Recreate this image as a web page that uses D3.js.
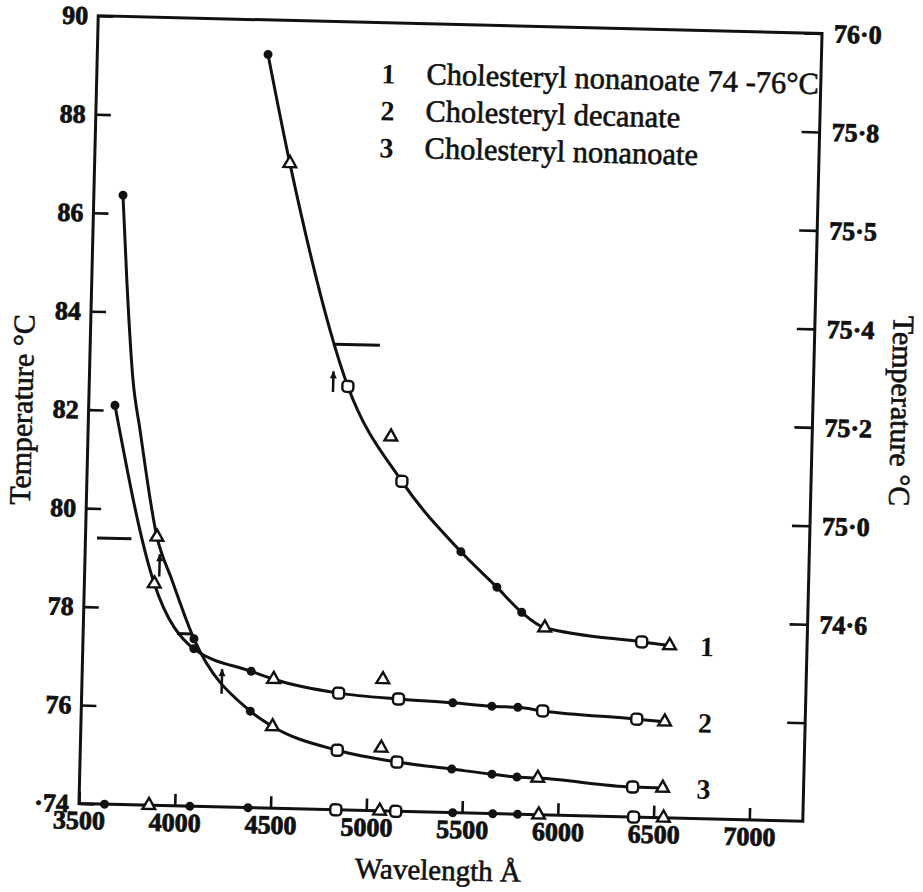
<!DOCTYPE html>
<html><head><meta charset="utf-8">
<script src="https://cdn.jsdelivr.net/npm/d3@7"></script>
<style>
body{margin:0;background:#fff}
svg{display:block}
text{font-family:"Liberation Serif","DejaVu Serif",serif;fill:#111}
</style>
</head><body>
<svg id="c" width="923" height="892"></svg>
<script>
// ---------- data ----------
const wavelengthTicks = [3500, 4000, 4500, 5000, 5500, 6000, 6500, 7000];
const leftTicks = [74, 76, 78, 80, 82, 84, 86, 88, 90];
const leftTickLabels = ["·74", "76", "78", "80", "82", "84", "86", "88", "90"];
const rightTickValues = [76.0, 75.8, 75.6, 75.4, 75.2, 75.0, 74.8, 74.6];
const rightTickLabels = ["76·0", "75·8", "75·5", "75·4", "75·2", "75·0", "74·6", ""];

// curve 1 : Cholesteryl nonanoate 74-76 °C (right axis)
const c1Wave = [4391, 4519, 4850, 5144, 5461, 5653, 5786, 5908, 6416, 6562];
const c1Temp = [75.93, 75.71, 75.26, 75.07, 74.93, 74.86, 74.81, 74.78, 74.756, 74.75];
const c1Mark = ["dot", "tri", "sq", "sq", "dot", "dot", "dot", "tri", "sq", "tri"];
const c1ExtraWave = [5081];
const c1ExtraTemp = [75.16];
const c1ExtraMark = ["tri"];

// curve 2 : Cholesteryl decanate (left axis)
const c2Wave = [3637, 3865, 4079, 4382, 4500, 4841, 5154, 5438, 5642, 5778, 5908, 6400, 6546];
const c2Temp = [82.10, 78.50, 77.20, 76.77, 76.62, 76.37, 76.28, 76.23, 76.18, 76.17, 76.11, 75.99, 75.95];
const c2Mark = ["dot", "tri", "dot", "dot", "tri", "sq", "sq", "dot", "dot", "dot", "sq", "sq", "tri"];
const c2ExtraWave = [5070];
const c2ExtraTemp = [76.67];
const c2ExtraMark = ["tri"];

// curve 3 : Cholesteryl nonanoate (left axis)
const c3Wave = [3652, 3684, 3728, 3771, 3873, 3957, 4079, 4382, 4500, 4841, 5154, 5441, 5651, 5782, 5891, 6387, 6544];
const c3Temp = [86.37, 84.59, 82.62, 81.61, 79.45, 78.58, 77.40, 75.96, 75.66, 75.21, 75.00, 74.885, 74.80, 74.755, 74.745, 74.61, 74.605];
const c3Mark = ["dot", "none", "none", "none", "tri", "none", "dot", "dot", "tri", "sq", "sq", "dot", "dot", "dot", "tri", "sq", "tri"];
const c3ExtraWave = [5070];
const c3ExtraTemp = [75.28];
const c3ExtraMark = ["tri"];

// measurement wavelengths marked on the base line (74 °C)
const baseWave = [3633, 3865, 4079, 4382, 4841, 5070, 5154, 5451, 5660, 5790, 5900, 6396, 6552];
const baseMark = ["dot", "tri", "dot", "dot", "sq", "tri", "sq", "dot", "dot", "dot", "tri", "sq", "tri"];

// error dashes and arrows
const dashW0 = [4777, 3560, 3990];
const dashW1 = [5012, 3740, 4070];
const dashT = [75.345, 79.4, 77.5];
const dashAxis = ["right", "left", "left"];
const arrowW = [4773, 3890, 4230];
const arrowT0 = [75.248, 78.65, 76.3];
const arrowT1 = [75.29, 79.1, 76.8];
const arrowAxis = ["right", "left", "left"];

const legendNum = ["1", "2", "3"];
const legendText = ["Cholesteryl nonanoate 74 -76°C", "Cholesteryl decanate", "Cholesteryl nonanoate"];
const curveLabel = ["1", "2", "3"];
const curveLabelWave = 6720;

// ---------- layout ----------
const W = 923, H = 892;
const F = {left: 88.5, right: 812.5, top: 24.5, bottom: 812.5};
const x = d3.scaleLinear().domain([3500, 7000]).range([F.left, 759]);
const yL = d3.scaleLinear().domain([74, 90]).range([F.bottom, F.top]);
const yR = d3.scaleLinear().domain([74.4, 76.0]).range([F.bottom, F.top]);

const svg = d3.select("#c");
svg.append("rect").attr("width", W).attr("height", H).attr("fill", "#fff");
const g = svg.append("g").attr("transform", "rotate(1.4,450.5,418.5)");

function styleAxis(sel) {
  sel.select(".domain").remove();
  sel.attr("font-family", "Liberation Serif").attr("font-size", 26).attr("font-weight", "bold");
  sel.selectAll(".tick line").attr("stroke", "#111").attr("stroke-width", 2.6);
  sel.selectAll(".tick text").attr("fill", "#111").attr("stroke", "#111").attr("stroke-width", 0.8);
}

// axes
const axL = g.append("g").attr("transform", `translate(${F.left},0)`)
  .call(d3.axisLeft(yL).tickValues(leftTicks).tickFormat((d, i) => leftTickLabels[i]).tickSizeInner(-15).tickSizeOuter(0).tickPadding(10));
styleAxis(axL);
const axR = g.append("g").attr("transform", `translate(${F.right},0)`)
  .call(d3.axisRight(yR).tickValues(rightTickValues).tickFormat((d, i) => rightTickLabels[i]).tickSizeInner(-18).tickSizeOuter(0).tickPadding(12));
styleAxis(axR);
const axB = g.append("g").attr("transform", `translate(0,${F.bottom})`)
  .call(d3.axisBottom(x).tickValues(wavelengthTicks).tickFormat(d3.format("d")).tickSizeInner(-12).tickSizeOuter(0).tickPadding(7));
styleAxis(axB);

// frame
g.append("rect").attr("x", F.left).attr("y", F.top).attr("width", F.right - F.left).attr("height", F.bottom - F.top)
  .attr("fill", "none").attr("stroke", "#111").attr("stroke-width", 3);

// curves
const line = (ys) => d3.line().x(d => x(d.w)).y(d => ys(d.t)).curve(d3.curveMonotoneX);
function zip(w, t, m) { return w.map((v, i) => ({w: v, t: t[i], m: m[i]})); }
const series = [
  {pts: zip(c1Wave, c1Temp, c1Mark), extra: zip(c1ExtraWave, c1ExtraTemp, c1ExtraMark), ys: yR},
  {pts: zip(c2Wave, c2Temp, c2Mark), extra: zip(c2ExtraWave, c2ExtraTemp, c2ExtraMark), ys: yL},
  {pts: zip(c3Wave, c3Temp, c3Mark), extra: zip(c3ExtraWave, c3ExtraTemp, c3ExtraMark), ys: yL}
];

function drawMark(parent, px, py, m) {
  if (m === "dot") {
    parent.append("circle").attr("cx", px).attr("cy", py).attr("r", 4.5).attr("fill", "#111");
  } else if (m === "tri") {
    parent.append("path").attr("d", d3.symbol(d3.symbolTriangle, 70)())
      .attr("transform", `translate(${px},${py})`).attr("fill", "#fff").attr("stroke", "#111").attr("stroke-width", 2.4);
  } else if (m === "sq") {
    parent.append("rect").attr("x", px - 5.5).attr("y", py - 5.5).attr("width", 11).attr("height", 11).attr("rx", 3.5)
      .attr("fill", "#fff").attr("stroke", "#111").attr("stroke-width", 2.4);
  }
}

series.forEach(s => {
  g.append("path").datum(s.pts).attr("d", line(s.ys)).attr("fill", "none").attr("stroke", "#111").attr("stroke-width", 3);
});
series.forEach(s => {
  s.pts.forEach(p => drawMark(g, x(p.w), s.ys(p.t), p.m));
  s.extra.forEach(p => drawMark(g, x(p.w), s.ys(p.t), p.m));
});

// base line marks
baseWave.forEach((w, i) => drawMark(g, x(w), yL(74), baseMark[i]));

// error dashes / arrows
dashW0.forEach((w0, i) => {
  const ys = dashAxis[i] === "right" ? yR : yL;
  g.append("line").attr("x1", x(w0)).attr("x2", x(dashW1[i])).attr("y1", ys(dashT[i])).attr("y2", ys(dashT[i]))
    .attr("stroke", "#111").attr("stroke-width", 3);
});
arrowW.forEach((w, i) => {
  const ys = arrowAxis[i] === "right" ? yR : yL;
  const xa = x(w), ya = ys(arrowT1[i]), yb = ys(arrowT0[i]);
  g.append("line").attr("x1", xa).attr("x2", xa).attr("y1", ya).attr("y2", yb).attr("stroke", "#111").attr("stroke-width", 2.5);
  g.append("path").attr("d", `M${xa - 3.5},${ya + 7}L${xa},${ya}L${xa + 3.5},${ya + 7}Z`).attr("fill", "#111");
});

// curve labels
series.forEach((s, i) => {
  const last = s.pts[s.pts.length - 1];
  g.append("text").attr("x", x(curveLabelWave)).attr("y", s.ys(last.t)).attr("dy", "0.35em")
    .style("font-size", "28px").style("font-weight", "bold").text(curveLabel[i]);
});

// legend
legendNum.forEach((n, i) => {
  const yy = 85 + i * 37;
  g.append("text").attr("x", 380).attr("y", yy).attr("text-anchor", "middle")
    .style("font-size", "28px").style("font-weight", "bold").text(n);
  g.append("text").attr("x", 418).attr("y", yy).style("font-size", "30.5px")
    .attr("stroke", "#111").attr("stroke-width", 0.6).text(legendText[i]);
});

// axis titles
g.append("text").attr("transform", "translate(32,420) rotate(-90)").attr("text-anchor", "middle")
  .style("font-size", "30px").attr("stroke", "#111").attr("stroke-width", 0.6).text("Temperature °C");
g.append("text").attr("transform", "translate(891,400) rotate(90)").attr("text-anchor", "middle")
  .style("font-size", "30px").attr("stroke", "#111").attr("stroke-width", 0.6).text("Temperature °C");
g.append("text").attr("x", 449).attr("y", 880).attr("text-anchor", "middle")
  .style("font-size", "29px").attr("stroke", "#111").attr("stroke-width", 0.6).text("Wavelength Å");
</script>
</body></html>
